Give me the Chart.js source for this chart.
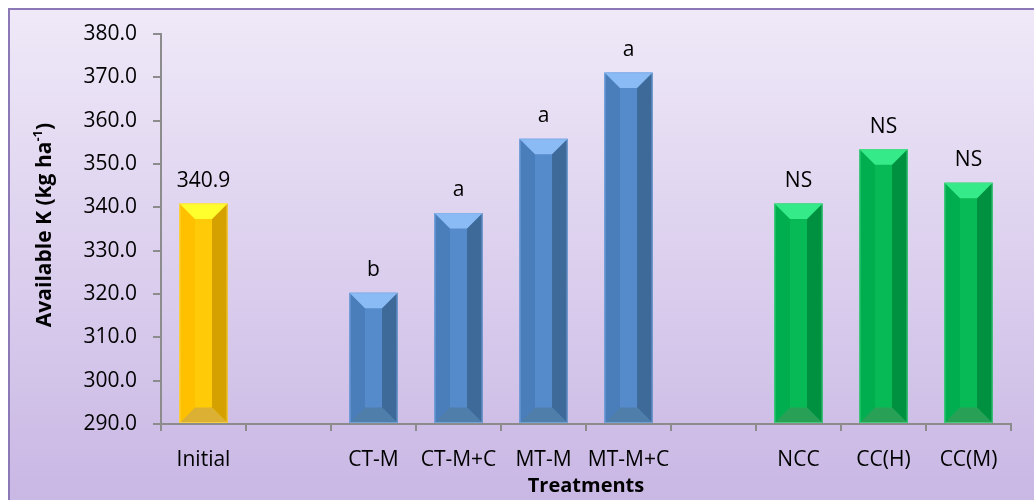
<!DOCTYPE html>
<html>
<head>
<meta charset="utf-8">
<script src="https://cdn.jsdelivr.net/npm/chart.js@4.4.1/dist/chart.umd.min.js"></script>
<style>
html, body { margin: 0; padding: 0; background: #fff; }
#wrap { width: 1034px; height: 500px; }
</style>
</head>
<body>
<div id="wrap"><canvas id="grafica" width="1034" height="500"></canvas></div>
<script>
// datos
const tratamientos = ['Initial', '', 'CT-M', 'CT-M+C', 'MT-M', 'MT-M+C', '', 'NCC', 'CC(H)', 'CC(M)']
const potasio = [340.9, null, 320.3, 338.7, 355.8, 371.1, null, 340.9, 353.4, 345.7]
const letras = ['340.9', '', 'b', 'a', 'a', 'a', '', 'NS', 'NS', 'NS']
const grupos = ['inicial', '', 'labranza', 'labranza', 'labranza', 'labranza', '', 'cobertura', 'cobertura', 'cobertura']
const ejeMin = 290
const ejeMax = 380
const ejePaso = 10

const fuente = "'Open Sans', 'Liberation Sans', sans-serif"

// caras del prisma: izquierda, centro, derecha, arriba, abajo, borde
const colores = {
    inicial:   { izq: '#ffc000', centro: '#ffcb08', der: '#d4a100', arriba: '#ffff2e', abajo: '#dcb032', borde: 'rgba(255,220,80,0.7)' },
    labranza:  { izq: '#4a7ebb', centro: '#568bcb', der: '#3e6a9a', arriba: '#8bbbf5', abajo: '#4f7eab', borde: 'rgba(130,175,235,0.7)' },
    cobertura: { izq: '#00ae50', centro: '#08ba56', der: '#009140', arriba: '#35ea88', abajo: '#28a056', borde: 'rgba(80,220,140,0.7)' }
}

const fondo = {
    id: 'fondo',
    beforeDraw(chart) {
        const ctx = chart.ctx
        const w = chart.width
        const h = chart.height
        ctx.save()
        ctx.fillStyle = '#ffffff'
        ctx.fillRect(0, 0, w, h)
        const g = ctx.createLinearGradient(0, 9, 0, h)
        g.addColorStop(0, '#efe9f8')
        g.addColorStop(1, '#c9b7e4')
        ctx.fillStyle = g
        ctx.fillRect(9, 9, w, h)
        ctx.strokeStyle = '#8a79b6'
        ctx.lineWidth = 2
        ctx.strokeRect(9, 9, w + 20, h + 20)
        ctx.restore()
    }
}

function poligono(ctx, pts, color) {
    ctx.beginPath()
    ctx.moveTo(pts[0][0], pts[0][1])
    for (let i = 1; i < pts.length; i++) ctx.lineTo(pts[i][0], pts[i][1])
    ctx.closePath()
    ctx.fillStyle = color
    ctx.fill()
}

const prisma = {
    id: 'prisma',
    afterDatasetsDraw(chart) {
        const ctx = chart.ctx
        const meta = chart.getDatasetMeta(0)
        ctx.save()
        meta.data.forEach((bar, i) => {
            if (potasio[i] == null) return
            const c = colores[grupos[i]]
            const p = bar.getProps(['x', 'y', 'base', 'width'], true)
            const x0 = p.x - p.width / 2
            const x1 = p.x + p.width / 2
            const top = p.y
            const bot = p.base
            const b = Math.min(p.width / 3, 15.5)
            poligono(ctx, [[x0, top], [x0 + b, top + b], [x0 + b, bot - b], [x0, bot]], c.izq)
            poligono(ctx, [[x1, top], [x1 - b, top + b], [x1 - b, bot - b], [x1, bot]], c.der)
            poligono(ctx, [[x0 + b, top + b], [x1 - b, top + b], [x1 - b, bot - b], [x0 + b, bot - b]], c.centro)
            poligono(ctx, [[x0, top], [x1, top], [x1 - b, top + b], [x0 + b, top + b]], c.arriba)
            poligono(ctx, [[x0, bot], [x0 + b, bot - b], [x1 - b, bot - b], [x1, bot]], c.abajo)
            ctx.strokeStyle = c.borde
            ctx.lineWidth = 1
            ctx.strokeRect(x0 + 0.5, top + 0.5, p.width - 1, bot - top - 1)
        })
        ctx.restore()
    }
}

const etiquetas = {
    id: 'etiquetas',
    afterDatasetsDraw(chart) {
        const ctx = chart.ctx
        const meta = chart.getDatasetMeta(0)
        ctx.save()
        ctx.font = '21px ' + fuente
        ctx.fillStyle = '#000'
        ctx.textAlign = 'center'
        ctx.textBaseline = 'bottom'
        meta.data.forEach((bar, i) => {
            if (!letras[i] || potasio[i] == null) return
            ctx.fillText(letras[i], bar.x, bar.y - 12)
        })
        ctx.restore()
    }
}

// titulo del eje Y con el exponente
const tituloY = {
    id: 'tituloY',
    afterDraw(chart) {
        const ctx = chart.ctx
        const area = chart.chartArea
        const base = 'Available K (kg ha'
        const sup = '-1'
        const fin = ')'
        ctx.save()
        ctx.fillStyle = '#000'
        ctx.textBaseline = 'middle'
        ctx.font = 'bold 21px ' + fuente
        const w1 = ctx.measureText(base).width
        const w3 = ctx.measureText(fin).width
        ctx.font = 'bold 13px ' + fuente
        const w2 = ctx.measureText(sup).width
        const total = w1 + w2 + w3
        ctx.translate(45, (area.top + area.bottom) / 2 - 4)
        ctx.rotate(-Math.PI / 2)
        let x = -total / 2
        ctx.font = 'bold 21px ' + fuente
        ctx.fillText(base, x, 0)
        x += w1
        ctx.font = 'bold 13px ' + fuente
        ctx.fillText(sup, x, -7)
        x += w2
        ctx.font = 'bold 21px ' + fuente
        ctx.fillText(fin, x, 0)
        ctx.restore()
    }
}

const config = {
    type: 'bar',
    data: {
        labels: tratamientos,
        datasets: [{
            data: potasio,
            base: ejeMin,
            backgroundColor: grupos.map(g => g ? colores[g].centro : 'transparent'),
            borderWidth: 0,
            barPercentage: 0.565,
            categoryPercentage: 1
        }]
    },
    options: {
        responsive: false,
        devicePixelRatio: 1,
        animation: false,
        layout: { padding: { left: 10, right: 23, top: 34, bottom: 0 } },
        plugins: {
            legend: { display: false },
            tooltip: { enabled: false }
        },
        scales: {
            x: {
                offset: true,
                grid: { display: true, drawOnChartArea: false, drawTicks: true, tickLength: 7, offset: true, color: '#8c8c8c', lineWidth: 2 },
                border: { display: true, color: '#8c8c8c', width: 2 },
                ticks: { color: '#000', font: { family: fuente, size: 21 }, padding: 16, maxRotation: 0, autoSkip: false },
                title: { display: true, text: 'Treatments', color: '#000', font: { family: fuente, size: 20, weight: 'bold' }, padding: { top: 0, bottom: 2 } },
                afterFit(s) { s.height = 76 }
            },
            y: {
                min: ejeMin,
                max: ejeMax,
                grid: { display: true, drawOnChartArea: false, drawTicks: true, tickLength: 8, color: '#8c8c8c', lineWidth: 2 },
                border: { display: true, color: '#8c8c8c', width: 2 },
                ticks: {
                    stepSize: ejePaso,
                    color: '#000',
                    font: { family: fuente, size: 21 },
                    padding: 16,
                    callback: v => v.toFixed(1)
                },
                afterFit(s) { s.width = 151 }
            }
        }
    },
    plugins: [fondo, prisma, etiquetas, tituloY]
}

const grafica = new Chart(document.getElementById('grafica'), config)
</script>
</body>
</html>
